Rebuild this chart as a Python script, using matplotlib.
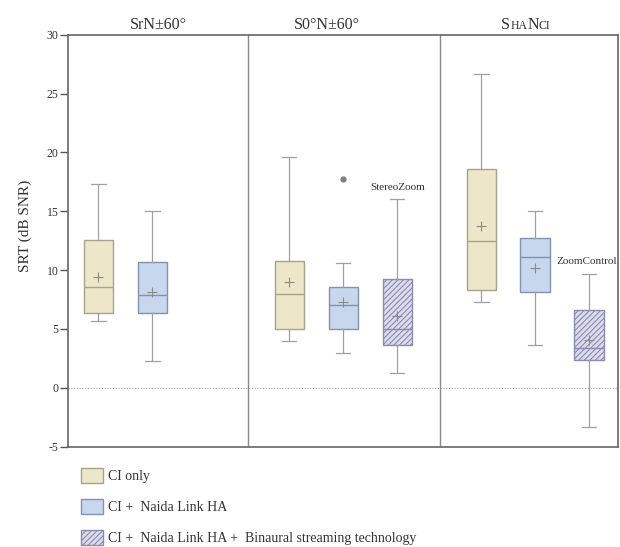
import matplotlib
matplotlib.use("Agg")
import matplotlib.pyplot as plt
from matplotlib.patches import Patch
from matplotlib.offsetbox import TextArea, HPacker, AnnotationBbox

plt.rcParams['font.family'] = ['Liberation Serif', 'DejaVu Serif']
plt.rcParams['hatch.linewidth'] = 0.8
plt.rcParams['axes.unicode_minus'] = False

# box statistics (dB SNR)
whislo = [5.7, 2.3, 4.0, 3.0, 1.3, 7.3, 3.6, -3.3]
q1 = [6.35, 6.35, 5.0, 5.0, 3.6, 8.35, 8.15, 2.35]
med = [8.6, 7.85, 8.0, 7.0, 5.0, 12.5, 11.15, 3.35]
q3 = [12.6, 10.7, 10.8, 8.6, 9.27, 18.6, 12.75, 6.57]
whishi = [17.3, 15.0, 19.6, 10.6, 16.0, 26.7, 15.0, 9.7]
means = [9.45, 8.1, 9.0, 7.3, 6.1, 13.75, 10.2, 4.05]
fliers = [[], [], [], [17.7], [], [], [], []]
kinds = [0, 1, 0, 1, 2, 0, 1, 2]

conditions = ["SrN±60°", "S0°N±60°"]
legend_labels = ["CI only", "CI +  Naida Link HA",
                 "CI +  Naida Link HA +  Binaural streaming technology"]

positions = [0.56, 1.56, 4.09, 5.09, 6.09, 7.65, 8.64, 9.64]
dividers = [3.33, 6.88]

fills = ["#ede6c9", "#c6d7ee", "#dcdcec"]
edges = ["#a9a18a", "#8393ad", "#8b8ab2"]
hatches = [None, None, "//////"]

fig = plt.figure(figsize=(6.2, 5.47), dpi=100)
ax = fig.add_axes([0.110, 0.1834, 0.887, 0.7532])

stats = []
for i in range(len(positions)):
    stats.append({"whislo": whislo[i], "q1": q1[i], "med": med[i], "q3": q3[i],
                  "whishi": whishi[i], "mean": means[i], "fliers": fliers[i]})

bp = ax.bxp(stats, positions=positions, widths=0.54, patch_artist=True,
            showmeans=True, showcaps=True,
            whiskerprops=dict(color="#a0a0a0", lw=0.9),
            capprops=dict(color="#a0a0a0", lw=0.9),
            meanprops=dict(marker="+", markeredgecolor="#8a8a8a", markersize=7, markeredgewidth=0.8),
            flierprops=dict(marker="o", markerfacecolor="#808080", markeredgecolor="#808080", markersize=3.5))

for i, box in enumerate(bp["boxes"]):
    k = kinds[i]
    box.set_facecolor(fills[k])
    box.set_edgecolor(edges[k])
    box.set_linewidth(1.0)
    if hatches[k]:
        box.set_hatch(hatches[k])
    bp["medians"][i].set_color(edges[k])
    bp["medians"][i].set_linewidth(1.0)

for d in dividers:
    ax.axvline(d, color="#8a8a8a", lw=1.0)
ax.axhline(0, color="#a0a0a0", lw=0.8, ls=(0, (1, 1.5)))

ax.set_xlim(0, 10.18)
ax.set_ylim(-5, 30)
ax.set_yticks([-5, 0, 5, 10, 15, 20, 25, 30])
ax.set_xticks([])
ax.tick_params(axis="y", labelsize=8.5, length=6, pad=1, color="#555555", labelcolor="#333333", width=1)
for s in ax.spines.values():
    s.set_color("#666666")
    s.set_linewidth(1.2)
ax.set_ylabel("SRT (dB SNR)", fontsize=11, color="#333333")
ax.yaxis.set_label_coords(-0.066, 0.536)

ax.text(positions[4], 17.0, "StereoZoom", ha="center", va="center", fontsize=8, color="#333333")
ax.text(positions[7] - 0.05, 10.7, "ZoomControl", ha="center", va="center", fontsize=8, color="#333333")

title_x = [1.67, 4.78]
for t, x in zip(conditions, title_x):
    ax.text(x, 30.15, t, ha="center", va="bottom", fontsize=11.5, color="#333333")

# SHANCI with small capitals
parts = [TextArea(s, textprops=dict(fontsize=fs, color="#333333"))
         for s, fs in [("S", 11.5), ("HA", 8.5), ("N", 11.5), ("CI", 8.5)]]
pack = HPacker(children=parts, align="baseline", pad=0, sep=0)
ab = AnnotationBbox(pack, (8.47, 30.15), xycoords="data", box_alignment=(0.5, 0),
                    frameon=False, pad=0, annotation_clip=False)
ax.add_artist(ab)

handles = [Patch(facecolor=fills[k], edgecolor=edges[k], hatch=hatches[k]) for k in range(3)]
fig.legend(handles, legend_labels, loc="upper left", bbox_to_anchor=(0.11, 0.168),
           frameon=False, fontsize=10, handlelength=1.6, handleheight=1.3,
           handletextpad=0.4, labelspacing=1.15, labelcolor="#333333")

fig.savefig("out.png", dpi=100)
